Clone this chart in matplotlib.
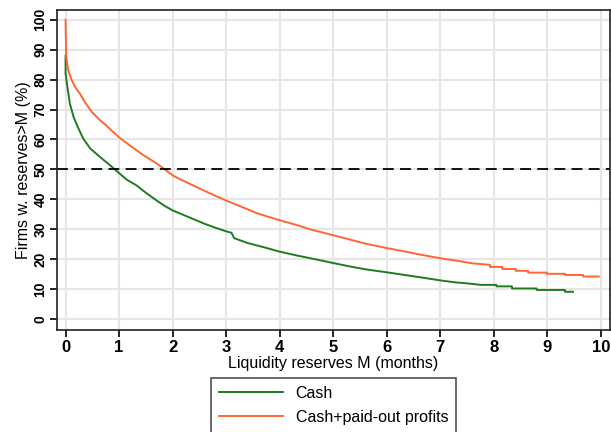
import matplotlib
matplotlib.use("Agg")
import matplotlib.pyplot as plt

plt.rcParams['font.family'] = ['Liberation Sans', 'DejaVu Sans']

# survivor curves (months, % of firms)
cash_x = [0.0, 0.0, 0.03, 0.08, 0.15, 0.24, 0.33, 0.46, 0.64, 0.83,
          0.92, 1.14, 1.33, 1.5, 1.67, 1.85, 2.0, 2.2, 2.4, 2.6,
          2.8, 3.0, 3.1, 3.15, 3.4, 3.7, 4.0, 4.3, 4.6, 5.0,
          5.3, 5.6, 6.0, 6.3, 6.6, 7.0, 7.25, 7.5, 7.76, 8.05,
          8.05, 8.34, 8.34, 8.80, 8.80, 9.33, 9.33, 9.48]
cash_y = [88, 82, 78, 72, 67.5, 63.7, 60.3, 57.0, 54.2, 51.4,
          50, 46.6, 44.6, 42.2, 40, 37.8, 36.3, 34.8, 33.3, 31.8,
          30.5, 29.3, 28.8, 27.0, 25.4, 24, 22.5, 21.3, 20.2, 18.7,
          17.6, 16.6, 15.6, 14.8, 14.0, 12.9, 12.3, 11.9, 11.4, 11.4,
          10.9, 10.9, 10.2, 10.2, 9.7, 9.7, 9.1, 9.1]

profit_x = [0.0, 0.01, 0.05, 0.115, 0.18, 0.27, 0.36, 0.49, 0.61, 0.74,
            0.89, 1.02, 1.24, 1.45, 1.70, 1.83, 2.0, 2.14, 2.4, 2.6,
            2.82, 3.0, 3.3, 3.6, 4.0, 4.3, 4.6, 5.0, 5.3, 5.6,
            6.0, 6.3, 6.6, 7.0, 7.3, 7.6, 7.93, 7.93, 8.16, 8.16,
            8.41, 8.41, 8.64, 8.64, 8.99, 8.99, 9.33, 9.33, 9.67, 9.67,
            9.96]
profit_y = [100, 88, 83.1, 79.8, 77.5, 75.3, 72.5, 69.2, 67.0, 65.0,
            62.5, 60.4, 57.5, 54.8, 52.0, 50.3, 48.0, 46.7, 44.5, 42.8,
            41.0, 39.6, 37.4, 35.2, 33, 31.5, 29.8, 28.0, 26.6, 25.2,
            23.7, 22.7, 21.6, 20.3, 19.5, 18.6, 18.1, 17.4, 17.4, 16.7,
            16.7, 16.1, 16.1, 15.5, 15.5, 15.1, 15.1, 14.7, 14.7, 14.2,
            14.2]

xticks = list(range(0, 11))
yticks = list(range(0, 101, 10))

fig = plt.figure(figsize=(6.11, 4.32), dpi=100)
ax = fig.add_axes([0.0933, 0.236, 0.905, 0.741])

ax.plot(cash_x, cash_y, color='#1e7b1e', lw=1.4, label='Cash')
ax.plot(profit_x, profit_y, color='#ff6633', lw=1.4, label='Cash+paid-out profits')
ax.axhline(50, color='black', lw=1.3, ls=(0, (6, 3.5)))

ax.set_xlim(-0.16, 10.17)
ax.set_ylim(-3.7, 103.3)
ax.set_xticks(xticks)
ax.set_yticks(yticks)
ax.grid(True, color='#e6e6e6', lw=1.5)
ax.set_axisbelow(True)
ax.tick_params(direction='out', length=5, width=1.2)
ax.tick_params(axis='x', labelsize=12, pad=2)
ax.tick_params(axis='y', labelsize=10, pad=2)
for lab in ax.get_xticklabels():
    lab.set_fontweight('bold')
for lab in ax.get_yticklabels():
    lab.set_fontweight('bold')
    lab.set_rotation(90)
    lab.set_va('center')
for s in ax.spines.values():
    s.set_color('#222222')
    s.set_linewidth(1.2)

ax.set_xlabel('Liquidity reserves M (months)', fontsize=11.5, labelpad=1)
ax.set_ylabel('Firms w. reserves>M (%)', fontsize=11.5, labelpad=2)

leg = ax.legend(loc='upper center', bbox_to_anchor=(0.5, -0.15), ncol=1,
                frameon=True, fancybox=False, edgecolor='#222222', fontsize=11.5,
                handlelength=4.0, borderpad=0.5, labelspacing=0.55,
                borderaxespad=0)
leg.get_frame().set_linewidth(1.2)

fig.savefig('out.png', dpi=100)
